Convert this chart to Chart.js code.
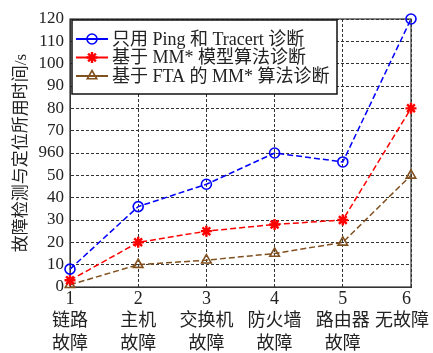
<!DOCTYPE html>
<html><head><meta charset="utf-8">
<script src="https://cdn.jsdelivr.net/npm/chart.js@4/dist/chart.umd.min.js"></script>
<style>html,body{margin:0;padding:0;background:#fff}#wrap{width:433px;height:353px}</style>
</head><body><div id="wrap"><canvas id="c" width="433" height="353"></canvas></div>
<script>
const xNumbers = ['1','2','3','4','5','6'];
const faultNames = [['链路','故障'],['主机','故障'],['交换机','故障'],['防火墙','故障'],['路由器','故障'],['无故障']];
const seriesNames = ['只用 Ping 和 Tracert 诊断','基于 MM* 模型算法诊断','基于 FTA 的 MM* 算法诊断'];
const pingTracert = [8,36,46,60,56,120];
const mmModel = [3,20,25,28,30,80];
const ftaMM = [1,10,12,15,20,50];
const yTickValues = [0,10,20,30,40,50,60,70,80,90,100,110,120];
const yTickLabels = ['0','10','20','30','40','50','960','70','80','90','100','110','120'];
const yTitle = '故障检测与定位所用时间/s';

const FONT = '"Liberation Serif", "Noto Sans CJK SC", serif';
// last label block is nudged left (as in the reference) so it fits the canvas
const labels = xNumbers.map((n,i)=>{
  const lines = [n].concat(faultNames[i]);
  return i === xNumbers.length-1 ? [lines[0]+'\u2002'].concat(lines.slice(1).map(s=>s+'\u3000')) : lines;
});

const framePlugin = {
  id:'frame',
  beforeDatasetsDraw(chart){
    const a = chart.chartArea, ctx = chart.ctx;
    ctx.save();
    ctx.strokeStyle = '#333'; ctx.lineWidth = 1.2;
    ctx.strokeRect(a.left, a.top, a.right-a.left, a.bottom-a.top);
    ctx.restore();
  }
};
const legendPlugin = {
  id:'boxLegend',
  afterDatasetsDraw(chart){
    const ctx = chart.ctx;
    const x0=72, y0=20, w=265, h=74;
    ctx.save();
    ctx.fillStyle='#fff'; ctx.fillRect(x0,y0,w,h);
    ctx.strokeStyle='#111'; ctx.lineWidth=1.5; ctx.strokeRect(x0,y0,w,h);
    chart.data.datasets.forEach((ds,i)=>{
      const y = y0+19+i*18.5;
      ctx.strokeStyle = ds.borderColor; ctx.lineWidth = 2; ctx.setLineDash([]);
      ctx.beginPath(); ctx.moveTo(76,y); ctx.lineTo(108,y); ctx.stroke();
      ctx.fillStyle = 'rgba(0,0,0,0)';
      ctx.strokeStyle = ds.pointBorderColor || ds.borderColor;
      ctx.lineWidth = ds.pointBorderWidth;
      Chart.helpers.drawPoint(ctx, {pointStyle: ds.pointStyle, radius: ds.pointRadius, rotation:0, borderWidth: ds.pointBorderWidth}, 92, y);
      ctx.fillStyle = '#222';
      ctx.font = '18px ' + FONT;
      ctx.textBaseline = 'middle'; ctx.textAlign='left';
      ctx.fillText(ds.label, 112, y+1);
    });
    ctx.restore();
  }
};

const common = {borderWidth:1.5, borderDash:[6,3], tension:0, fill:false, clip:false, pointBorderWidth:1.6, pointRadius:5, pointHoverRadius:5};
new Chart(document.getElementById('c'), {
  type:'line',
  data:{
    labels: labels,
    datasets:[
      Object.assign({}, common, {label: seriesNames[0], data: pingTracert, borderColor:'#0000ff', pointBorderColor:'#0000ff', pointBackgroundColor:'rgba(0,0,0,0)', pointStyle:'circle'}),
      Object.assign({}, common, {label: seriesNames[1], data: mmModel, borderColor:'#ff0000', pointBorderColor:'#ff0000', pointBackgroundColor:'#ff0000', pointStyle:'star', pointBorderWidth:2.4, pointRadius:5.5}),
      Object.assign({}, common, {label: seriesNames[2], data: ftaMM, borderColor:'#80501f', pointBorderColor:'#80501f', pointBackgroundColor:'rgba(0,0,0,0)', pointStyle:'triangle', pointRadius:5.5})
    ]
  },
  options:{
    responsive:false, devicePixelRatio:1, animation:false,
    layout:{padding:{left:0,right:22,top:19,bottom:0}},
    plugins:{legend:{display:false}, tooltip:{enabled:false}},
    scales:{
      x:{
        offset:false,
        grid:{display:true, color:'#333', lineWidth:1, drawTicks:false},
        border:{display:true, color:'#333', dash:[3,2]},
        ticks:{autoSkip:false, maxRotation:0, minRotation:0, padding:1, color:'#222', font:{family:FONT, size:18, lineHeight:1.25}},
        afterFit(s){ s.height = 66; s.paddingLeft = 0; s.paddingRight = 0; }
      },
      y:{
        min:0, max:120,
        afterBuildTicks(s){ s.ticks = yTickValues.map(v=>({value:v})); },
        grid:{display:true, color:'#333', lineWidth:1, drawTicks:false},
        border:{display:true, color:'#333', dash:[3,2]},
        ticks:{autoSkip:false, padding:6, color:'#222', font:{family:FONT, size:17},
          callback(v){ const i = yTickValues.indexOf(v); return i>=0 ? yTickLabels[i] : ''; }},
        title:{display:true, text:yTitle, color:'#222', font:{family:FONT, size:17}, padding:{top:11,bottom:0}},
        afterFit(s){ s.width = 70; s.paddingTop = 0; s.paddingBottom = 0; }
      }
    }
  },
  plugins:[framePlugin, legendPlugin]
});
</script></body></html>
